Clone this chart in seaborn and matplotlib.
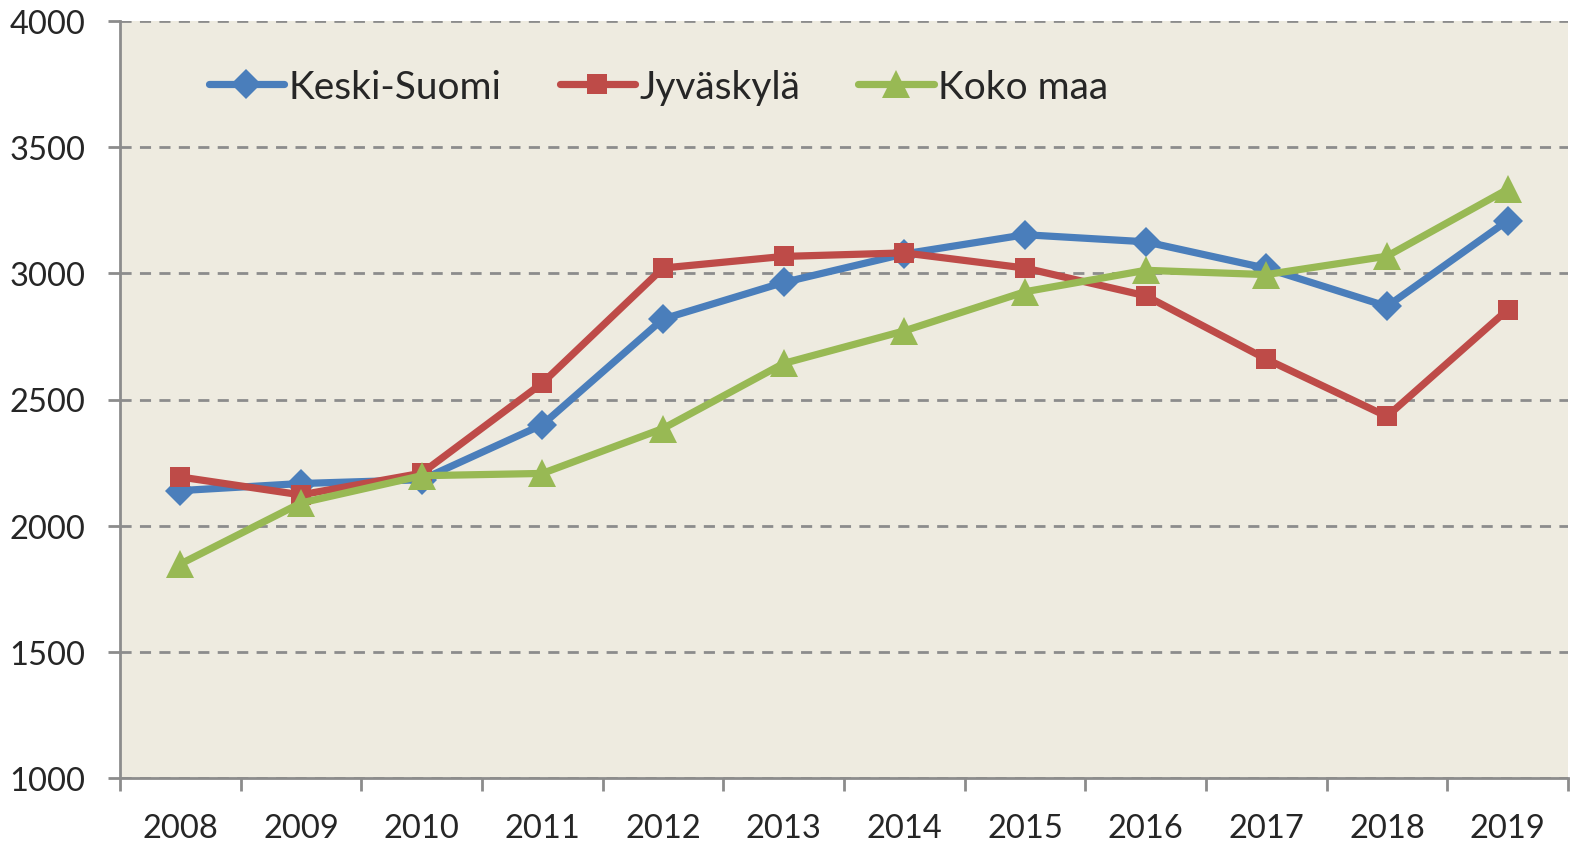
import numpy as np
import pandas as pd
import matplotlib
matplotlib.use("Agg")
import matplotlib.pyplot as plt
import seaborn as sns

years = [2008, 2009, 2010, 2011, 2012, 2013, 2014, 2015, 2016, 2017, 2018, 2019]
keski_suomi = [2139, 2167, 2182, 2400, 2819, 2964, 3077, 3153, 3125, 3020, 2869, 3209]
jyvaskyla = [2193, 2122, 2208, 2565, 3021, 3067, 3081, 3021, 2911, 2660, 2433, 2856]
koko_maa = [1848, 2090, 2198, 2207, 2385, 2643, 2772, 2927, 3012, 2995, 3068, 3333]
series_names = ["Keski-Suomi", "Jyväskylä", "Koko maa"]

df = pd.DataFrame({
    "year": years * 3,
    "value": keski_suomi + jyvaskyla + koko_maa,
    "series": [n for n in series_names for _ in years],
})

sns.set_style("white")
plt.rcParams["font.family"] = ["Lato", "DejaVu Sans"]

colors = {"Keski-Suomi": "#4A7EBB", "Jyväskylä": "#BE4B48", "Koko maa": "#98B954"}
markers = {"Keski-Suomi": "D", "Jyväskylä": "s", "Koko maa": "^"}
msizes = {"Keski-Suomi": 15, "Jyväskylä": 14.5, "Koko maa": 20}

fig = plt.figure(figsize=(15.7, 8.45), dpi=100)
ax = fig.add_axes([120 / 1570, 1 - 779 / 845, 1448 / 1570, 757 / 845])
ax.set_facecolor("#EEEBE0")

sns.lineplot(data=df, x="year", y="value", hue="series", style="series",
             palette=colors, markers=markers, dashes=False, linewidth=5.2,
             markersize=15, markeredgewidth=0, ax=ax)

for line, name in zip(ax.lines, series_names):
    line.set_markersize(msizes[name])
    line.set_solid_capstyle("round")

ax.set_xlim(2007.5, 2019.5)
ax.set_ylim(1000, 4000)
ax.set_yticks(np.arange(1000, 4001, 500))
ax.set_xticks(years)
ax.set_xticks(np.arange(2007.5, 2020, 1), minor=True)
ax.tick_params(axis="x", which="major", length=0, pad=25, labelsize=23.5)
ax.tick_params(axis="x", which="minor", length=9, width=2, color="#8C8C8C", direction="out", bottom=True)
ax.tick_params(axis="y", length=9, width=2, color="#8C8C8C", direction="out", labelsize=23.5, pad=16, left=True)

ax.yaxis.grid(True, color="#8C8C8C", linestyle=(0, (4, 3)), linewidth=2)
ax.set_axisbelow(True)
for side in ["top", "right"]:
    ax.spines[side].set_visible(False)
for side in ["left", "bottom"]:
    ax.spines[side].set_color("#8C8C8C")
    ax.spines[side].set_linewidth(2)

ax.set_xlabel("")
ax.set_ylabel("")

handles, labels = ax.get_legend_handles_labels()
leg = ax.legend(handles, labels, loc="upper left", bbox_to_anchor=(0.037, 0.983), ncol=3,
                frameon=False, fontsize=28, handlelength=1.95, handletextpad=0.1,
                columnspacing=1.5)
for h, name in zip(leg.legend_handles, labels):
    h.set_linewidth(5.2)
    h.set_markersize(msizes[name])
    h.set_markeredgewidth(0)

fig.savefig("out.png", dpi=100)
